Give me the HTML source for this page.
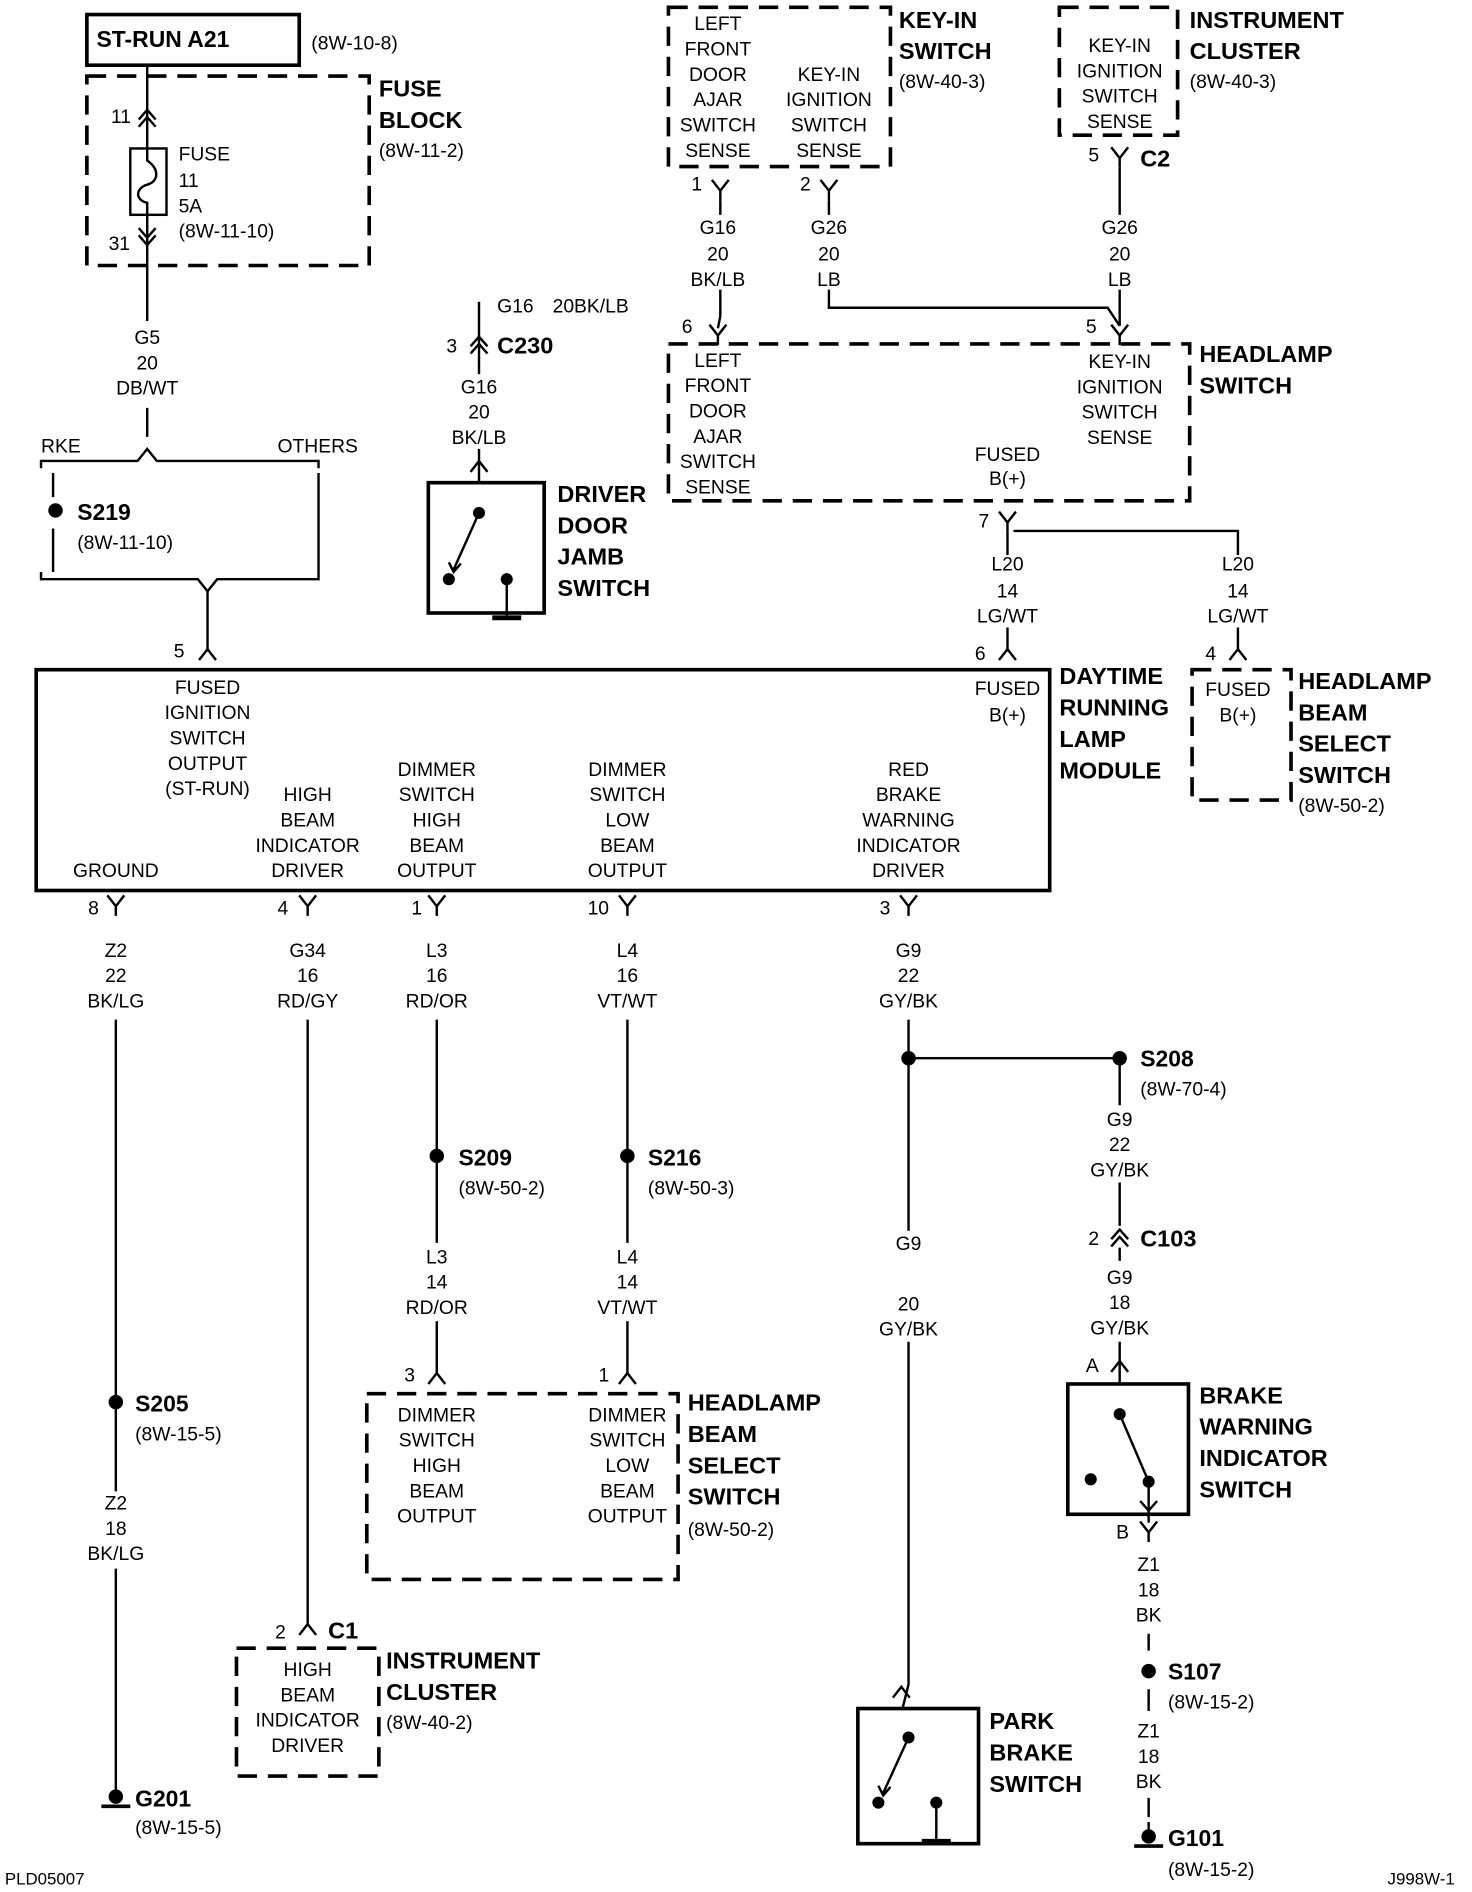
<!DOCTYPE html>
<html><head><meta charset="utf-8"><style>
html,body{margin:0;padding:0;background:#fff}
svg{display:block}
text{font-family:"Liberation Sans",sans-serif;font-size:16px;fill:#000}
.b{font-weight:bold;font-size:19.5px}
.c{text-anchor:middle}
.l{stroke:#000;stroke-width:2;fill:none}
.d{stroke:#000;stroke-width:3;fill:none;stroke-dasharray:16,9}
.k{stroke:#000;stroke-width:3;fill:none}
</style></head><body>
<svg width="1472" height="1892" viewBox="0 0 1220 1568" xmlns="http://www.w3.org/2000/svg">
<defs>
<path id="Y" d="M-7,-9 L0,0 L7,-9 M0,0 L0,8" stroke="#000" stroke-width="2" fill="none"/>
<path id="A" d="M-7,9 L0,0 L7,9" stroke="#000" stroke-width="2" fill="none"/>
<path id="AA" d="M-7,7 L0,-1 L7,7 M-7,13 L0,5 L7,13" stroke="#000" stroke-width="2" fill="none"/>
<path id="VV" d="M-7,-7 L0,1 L7,-7 M-7,-13 L0,-5 L7,-13" stroke="#000" stroke-width="2" fill="none"/>
</defs>

<!-- ST-RUN -->
<rect x="72" y="12" width="176" height="42" class="k"/>
<text x="80" y="39" class="b" style="font-size:19px">ST-RUN A21</text>
<text x="258" y="41">(8W-10-8)</text>
<rect x="72" y="63" width="234" height="157" class="d"/>
<path d="M122,54 V266 M122,338 V362" class="l"/>
<use href="#AA" x="122" y="92"/>
<use href="#VV" x="122" y="202"/>
<rect x="108" y="123" width="30" height="55" fill="#fff" stroke="#000" stroke-width="2"/>
<path d="M122,123 V133 C132,140 132,150 122,153 C112,156 112,166 122,168 V178" class="l"/>
<text x="92" y="102">11</text><text x="90" y="207">31</text>
<text x="148" y="133">FUSE</text><text x="148" y="155">11</text><text x="148" y="176">5A</text><text x="148" y="197">(8W-11-10)</text>
<text x="314" y="80" class="b">FUSE</text><text x="314" y="106" class="b">BLOCK</text><text x="314" y="130">(8W-11-2)</text>
<text x="122" y="285" class="c">G5</text><text x="122" y="306" class="c">20</text><text x="122" y="327" class="c">DB/WT</text>
<path d="M34,388 V382 H114 L122,372 L130,382 H264 V388" class="l"/>
<text x="34" y="375">RKE</text><text x="230" y="375">OTHERS</text>
<path d="M44,392 V412 M44,438 V474 M264,392 V474" class="l"/>
<circle cx="46" cy="423" r="6"/>
<text x="64" y="431" class="b" style="font-size:19px">S219</text><text x="64" y="455">(8W-11-10)</text>
<path d="M34,474 V480 H164 L172,490 L180,480 H264 V474 M172,490 V540" class="l"/>
<text x="144" y="545">5</text><use href="#A" x="172" y="538"/>

<!-- DRL module -->
<rect x="30" y="555" width="840" height="183" class="k"/>
<g class="c">
<text x="172" y="575">FUSED</text><text x="172" y="596">IGNITION</text><text x="172" y="617">SWITCH</text><text x="172" y="638">OUTPUT</text><text x="172" y="659">(ST-RUN)</text>
<text x="96" y="727">GROUND</text>
<text x="255" y="664">HIGH</text><text x="255" y="685">BEAM</text><text x="255" y="706">INDICATOR</text><text x="255" y="727">DRIVER</text>
<text x="362" y="643">DIMMER</text><text x="362" y="664">SWITCH</text><text x="362" y="685">HIGH</text><text x="362" y="706">BEAM</text><text x="362" y="727">OUTPUT</text>
<text x="520" y="643">DIMMER</text><text x="520" y="664">SWITCH</text><text x="520" y="685">LOW</text><text x="520" y="706">BEAM</text><text x="520" y="727">OUTPUT</text>
<text x="753" y="643">RED</text><text x="753" y="664">BRAKE</text><text x="753" y="685">WARNING</text><text x="753" y="706">INDICATOR</text><text x="753" y="727">DRIVER</text>
<text x="835" y="576">FUSED</text><text x="835" y="598">B(+)</text>
</g>
<text x="878" y="567" class="b">DAYTIME</text><text x="878" y="593" class="b">RUNNING</text><text x="878" y="619" class="b">LAMP</text><text x="878" y="645" class="b">MODULE</text>

<!-- key-in switch -->
<rect x="554" y="6" width="184" height="132" class="d"/>
<g class="c">
<text x="595" y="25">LEFT</text><text x="595" y="46">FRONT</text><text x="595" y="67">DOOR</text><text x="595" y="88">AJAR</text><text x="595" y="109">SWITCH</text><text x="595" y="130">SENSE</text>
<text x="687" y="67">KEY-IN</text><text x="687" y="88">IGNITION</text><text x="687" y="109">SWITCH</text><text x="687" y="130">SENSE</text>
</g>
<text x="745" y="23" class="b">KEY-IN</text><text x="745" y="49" class="b">SWITCH</text><text x="745" y="73">(8W-40-3)</text>
<text x="573" y="158">1</text><use href="#Y" x="597" y="158"/>
<text x="663" y="158">2</text><use href="#Y" x="687" y="158"/>
<path d="M597,166 V178 M597,240 V262 L595,272" class="l"/>
<path d="M687,166 V178 M687,240 V255 H918 L928,270" class="l"/>
<g class="c">
<text x="595" y="194">G16</text><text x="595" y="216">20</text><text x="595" y="237">BK/LB</text>
<text x="687" y="194">G26</text><text x="687" y="216">20</text><text x="687" y="237">LB</text>
<text x="928" y="194">G26</text><text x="928" y="216">20</text><text x="928" y="237">LB</text>
</g>
<rect x="878" y="6" width="98" height="106" class="d"/>
<g class="c"><text x="928" y="43">KEY-IN</text><text x="928" y="64">IGNITION</text><text x="928" y="85">SWITCH</text><text x="928" y="106">SENSE</text></g>
<text x="986" y="23" class="b">INSTRUMENT</text><text x="986" y="49" class="b">CLUSTER</text><text x="986" y="73">(8W-40-3)</text>
<text x="902" y="134">5</text><use href="#Y" x="928" y="131"/><text x="945" y="138" class="b">C2</text>
<path d="M928,139 V178 M928,240 V270" class="l"/>

<!-- headlamp switch -->
<text x="565" y="276">6</text><use href="#Y" x="595" y="278"/>
<text x="900" y="276">5</text><use href="#Y" x="928" y="278"/>
<rect x="554" y="285" width="432" height="130" class="d"/>
<g class="c">
<text x="595" y="304">LEFT</text><text x="595" y="325">FRONT</text><text x="595" y="346">DOOR</text><text x="595" y="367">AJAR</text><text x="595" y="388">SWITCH</text><text x="595" y="409">SENSE</text>
<text x="928" y="305">KEY-IN</text><text x="928" y="326">IGNITION</text><text x="928" y="347">SWITCH</text><text x="928" y="368">SENSE</text>
<text x="835" y="382">FUSED</text><text x="835" y="402">B(+)</text>
</g>
<text x="994" y="300" class="b">HEADLAMP</text><text x="994" y="326" class="b">SWITCH</text>
<text x="811" y="437">7</text><use href="#Y" x="835" y="433"/>
<path d="M835,441 V460 M835,520 V540 M840,440 H1026 V460 M1026,520 V540" class="l"/>
<g class="c">
<text x="835" y="473">L20</text><text x="835" y="495">14</text><text x="835" y="516">LG/WT</text>
<text x="1026" y="473">L20</text><text x="1026" y="495">14</text><text x="1026" y="516">LG/WT</text>
</g>
<text x="808" y="547">6</text><use href="#A" x="835" y="538"/>
<text x="999" y="547">4</text><use href="#A" x="1026" y="538"/>
<rect x="988" y="555" width="82" height="108" class="d"/>
<g class="c"><text x="1026" y="577">FUSED</text><text x="1026" y="598">B(+)</text></g>
<text x="1076" y="571" class="b">HEADLAMP</text><text x="1076" y="597" class="b">BEAM</text><text x="1076" y="623" class="b">SELECT</text><text x="1076" y="649" class="b">SWITCH</text><text x="1076" y="673">(8W-50-2)</text>

<!-- C230 / driver door -->
<text x="412" y="259">G16</text><text x="458" y="259">20BK/LB</text>
<path d="M397,250 V310 M397,372 V400" class="l"/>
<text x="370" y="292">3</text><use href="#AA" x="397" y="280"/>
<text x="412" y="293" class="b">C230</text>
<g class="c"><text x="397" y="326">G16</text><text x="397" y="347">20</text><text x="397" y="368">BK/LB</text></g>
<use href="#A" x="397" y="382"/>
<rect x="355" y="400" width="96" height="108" class="k"/>
<circle cx="397" cy="425" r="5"/><circle cx="372" cy="480" r="5"/><circle cx="420" cy="480" r="5"/>
<path d="M397,425 L376,472 M372,466 L376,474 L382,467 M420,480 V510" class="l"/>
<path d="M408,512 H432" stroke="#000" stroke-width="4"/>
<text x="462" y="416" class="b">DRIVER</text><text x="462" y="442" class="b">DOOR</text><text x="462" y="468" class="b">JAMB</text><text x="462" y="494" class="b">SWITCH</text>

<!-- lower pins -->
<text x="73" y="758">8</text><use href="#Y" x="96" y="751"/>
<text x="230" y="758">4</text><use href="#Y" x="255" y="751"/>
<text x="341" y="758">1</text><use href="#Y" x="362" y="751"/>
<text x="487" y="758">10</text><use href="#Y" x="520" y="751"/>
<text x="729" y="758">3</text><use href="#Y" x="753" y="751"/>
<g class="c">
<text x="96" y="793">Z2</text><text x="96" y="814">22</text><text x="96" y="835">BK/LG</text>
<text x="255" y="793">G34</text><text x="255" y="814">16</text><text x="255" y="835">RD/GY</text>
<text x="362" y="793">L3</text><text x="362" y="814">16</text><text x="362" y="835">RD/OR</text>
<text x="520" y="793">L4</text><text x="520" y="814">16</text><text x="520" y="835">VT/WT</text>
<text x="753" y="793">G9</text><text x="753" y="814">22</text><text x="753" y="835">GY/BK</text>
</g>
<!-- ground wire -->
<path d="M96,845 V1236 M96,1300 V1492" class="l"/>
<circle cx="96" cy="1162" r="6"/>
<text x="112" y="1170" class="b" style="font-size:19px">S205</text><text x="112" y="1194">(8W-15-5)</text>
<g class="c"><text x="96" y="1251">Z2</text><text x="96" y="1272">18</text><text x="96" y="1293">BK/LG</text></g>
<circle cx="96" cy="1489" r="6"/><path d="M84,1497 H108" stroke="#000" stroke-width="3"/>
<text x="112" y="1497" class="b" style="font-size:19px">G201</text><text x="112" y="1520">(8W-15-5)</text>
<!-- G34 -->
<path d="M255,845 V1346" class="l"/>
<text x="228" y="1358">2</text><use href="#A" x="255" y="1346"/><text x="272" y="1358" class="b">C1</text>
<rect x="196" y="1366" width="118" height="106" class="d"/>
<g class="c"><text x="255" y="1389">HIGH</text><text x="255" y="1410">BEAM</text><text x="255" y="1431">INDICATOR</text><text x="255" y="1452">DRIVER</text></g>
<text x="320" y="1383" class="b">INSTRUMENT</text><text x="320" y="1409" class="b">CLUSTER</text><text x="320" y="1433">(8W-40-2)</text>
<!-- L3 L4 -->
<path d="M362,845 V1030 M362,1095 V1138 M520,845 V1030 M520,1095 V1138" class="l"/>
<circle cx="362" cy="958" r="6"/><circle cx="520" cy="958" r="6"/>
<text x="380" y="966" class="b" style="font-size:19px">S209</text><text x="380" y="990">(8W-50-2)</text>
<text x="537" y="966" class="b" style="font-size:19px">S216</text><text x="537" y="990">(8W-50-3)</text>
<g class="c">
<text x="362" y="1047">L3</text><text x="362" y="1068">14</text><text x="362" y="1089">RD/OR</text>
<text x="520" y="1047">L4</text><text x="520" y="1068">14</text><text x="520" y="1089">VT/WT</text>
</g>
<text x="335" y="1145">3</text><use href="#A" x="362" y="1138"/>
<text x="496" y="1145">1</text><use href="#A" x="520" y="1138"/>
<rect x="304" y="1155" width="258" height="154" class="d"/>
<g class="c">
<text x="362" y="1178">DIMMER</text><text x="362" y="1199">SWITCH</text><text x="362" y="1220">HIGH</text><text x="362" y="1241">BEAM</text><text x="362" y="1262">OUTPUT</text>
<text x="520" y="1178">DIMMER</text><text x="520" y="1199">SWITCH</text><text x="520" y="1220">LOW</text><text x="520" y="1241">BEAM</text><text x="520" y="1262">OUTPUT</text>
</g>
<text x="570" y="1169" class="b">HEADLAMP</text><text x="570" y="1195" class="b">BEAM</text><text x="570" y="1221" class="b">SELECT</text><text x="570" y="1247" class="b">SWITCH</text><text x="570" y="1273">(8W-50-2)</text>
<!-- G9 -->
<path d="M753,845 V1020 M753,1112 V1396 L748,1416 M753,877 H928 V916 M928,980 V1016" class="l"/>
<circle cx="753" cy="877" r="6"/><circle cx="928" cy="877" r="6"/>
<text x="945" y="884" class="b" style="font-size:19px">S208</text><text x="945" y="908">(8W-70-4)</text>
<g class="c">
<text x="753" y="1036">G9</text><text x="753" y="1086">20</text><text x="753" y="1107">GY/BK</text>
<text x="928" y="933">G9</text><text x="928" y="954">22</text><text x="928" y="975">GY/BK</text>
<text x="928" y="1064">G9</text><text x="928" y="1085">18</text><text x="928" y="1106">GY/BK</text>
</g>
<use href="#A" x="747" y="1398"/>
<rect x="711" y="1416" width="100" height="112" class="k"/>
<circle cx="753" cy="1440" r="5"/><circle cx="728" cy="1494" r="5"/><circle cx="776" cy="1494" r="5"/>
<path d="M753,1440 L732,1486 M728,1480 L732,1488 L738,1481 M776,1494 V1524" class="l"/>
<path d="M764,1526 H788" stroke="#000" stroke-width="4"/>
<text x="820" y="1433" class="b">PARK</text><text x="820" y="1459" class="b">BRAKE</text><text x="820" y="1485" class="b">SWITCH</text>
<text x="902" y="1032">2</text><use href="#AA" x="928" y="1020"/><text x="945" y="1033" class="b">C103</text>
<path d="M928,1034 V1045 M928,1112 V1147" class="l"/>
<text x="900" y="1137">A</text><use href="#A" x="928" y="1128"/>
<rect x="885" y="1147" width="100" height="108" class="k"/>
<circle cx="928" cy="1172" r="5"/><circle cx="952" cy="1228" r="5"/><circle cx="904" cy="1226" r="5"/>
<path d="M928,1172 L952,1228 M952,1228 V1255 M945,1244 L952,1252 L959,1244 M952,1255 V1262" class="l"/>
<text x="994" y="1163" class="b">BRAKE</text><text x="994" y="1189" class="b">WARNING</text><text x="994" y="1215" class="b">INDICATOR</text><text x="994" y="1241" class="b">SWITCH</text>
<text x="925" y="1275">B</text><use href="#Y" x="952" y="1270"/>
<g class="c">
<text x="952" y="1302">Z1</text><text x="952" y="1323">18</text><text x="952" y="1344">BK</text>
<text x="952" y="1440">Z1</text><text x="952" y="1461">18</text><text x="952" y="1482">BK</text>
</g>
<path d="M952,1354 V1368 M952,1400 V1418 M952,1490 V1506 M952,1510 V1522" class="l"/>
<circle cx="952" cy="1385" r="6"/>
<text x="968" y="1392" class="b" style="font-size:19px">S107</text><text x="968" y="1416">(8W-15-2)</text>
<circle cx="952" cy="1522" r="6"/><path d="M940,1530 H964" stroke="#000" stroke-width="3"/>
<text x="968" y="1530" class="b" style="font-size:19px">G101</text><text x="968" y="1555">(8W-15-2)</text>
<text x="4" y="1562" style="font-size:14px">PLD05007</text>
<text x="1150" y="1562" style="font-size:14px">J998W-1</text>
</svg>
</body></html>
